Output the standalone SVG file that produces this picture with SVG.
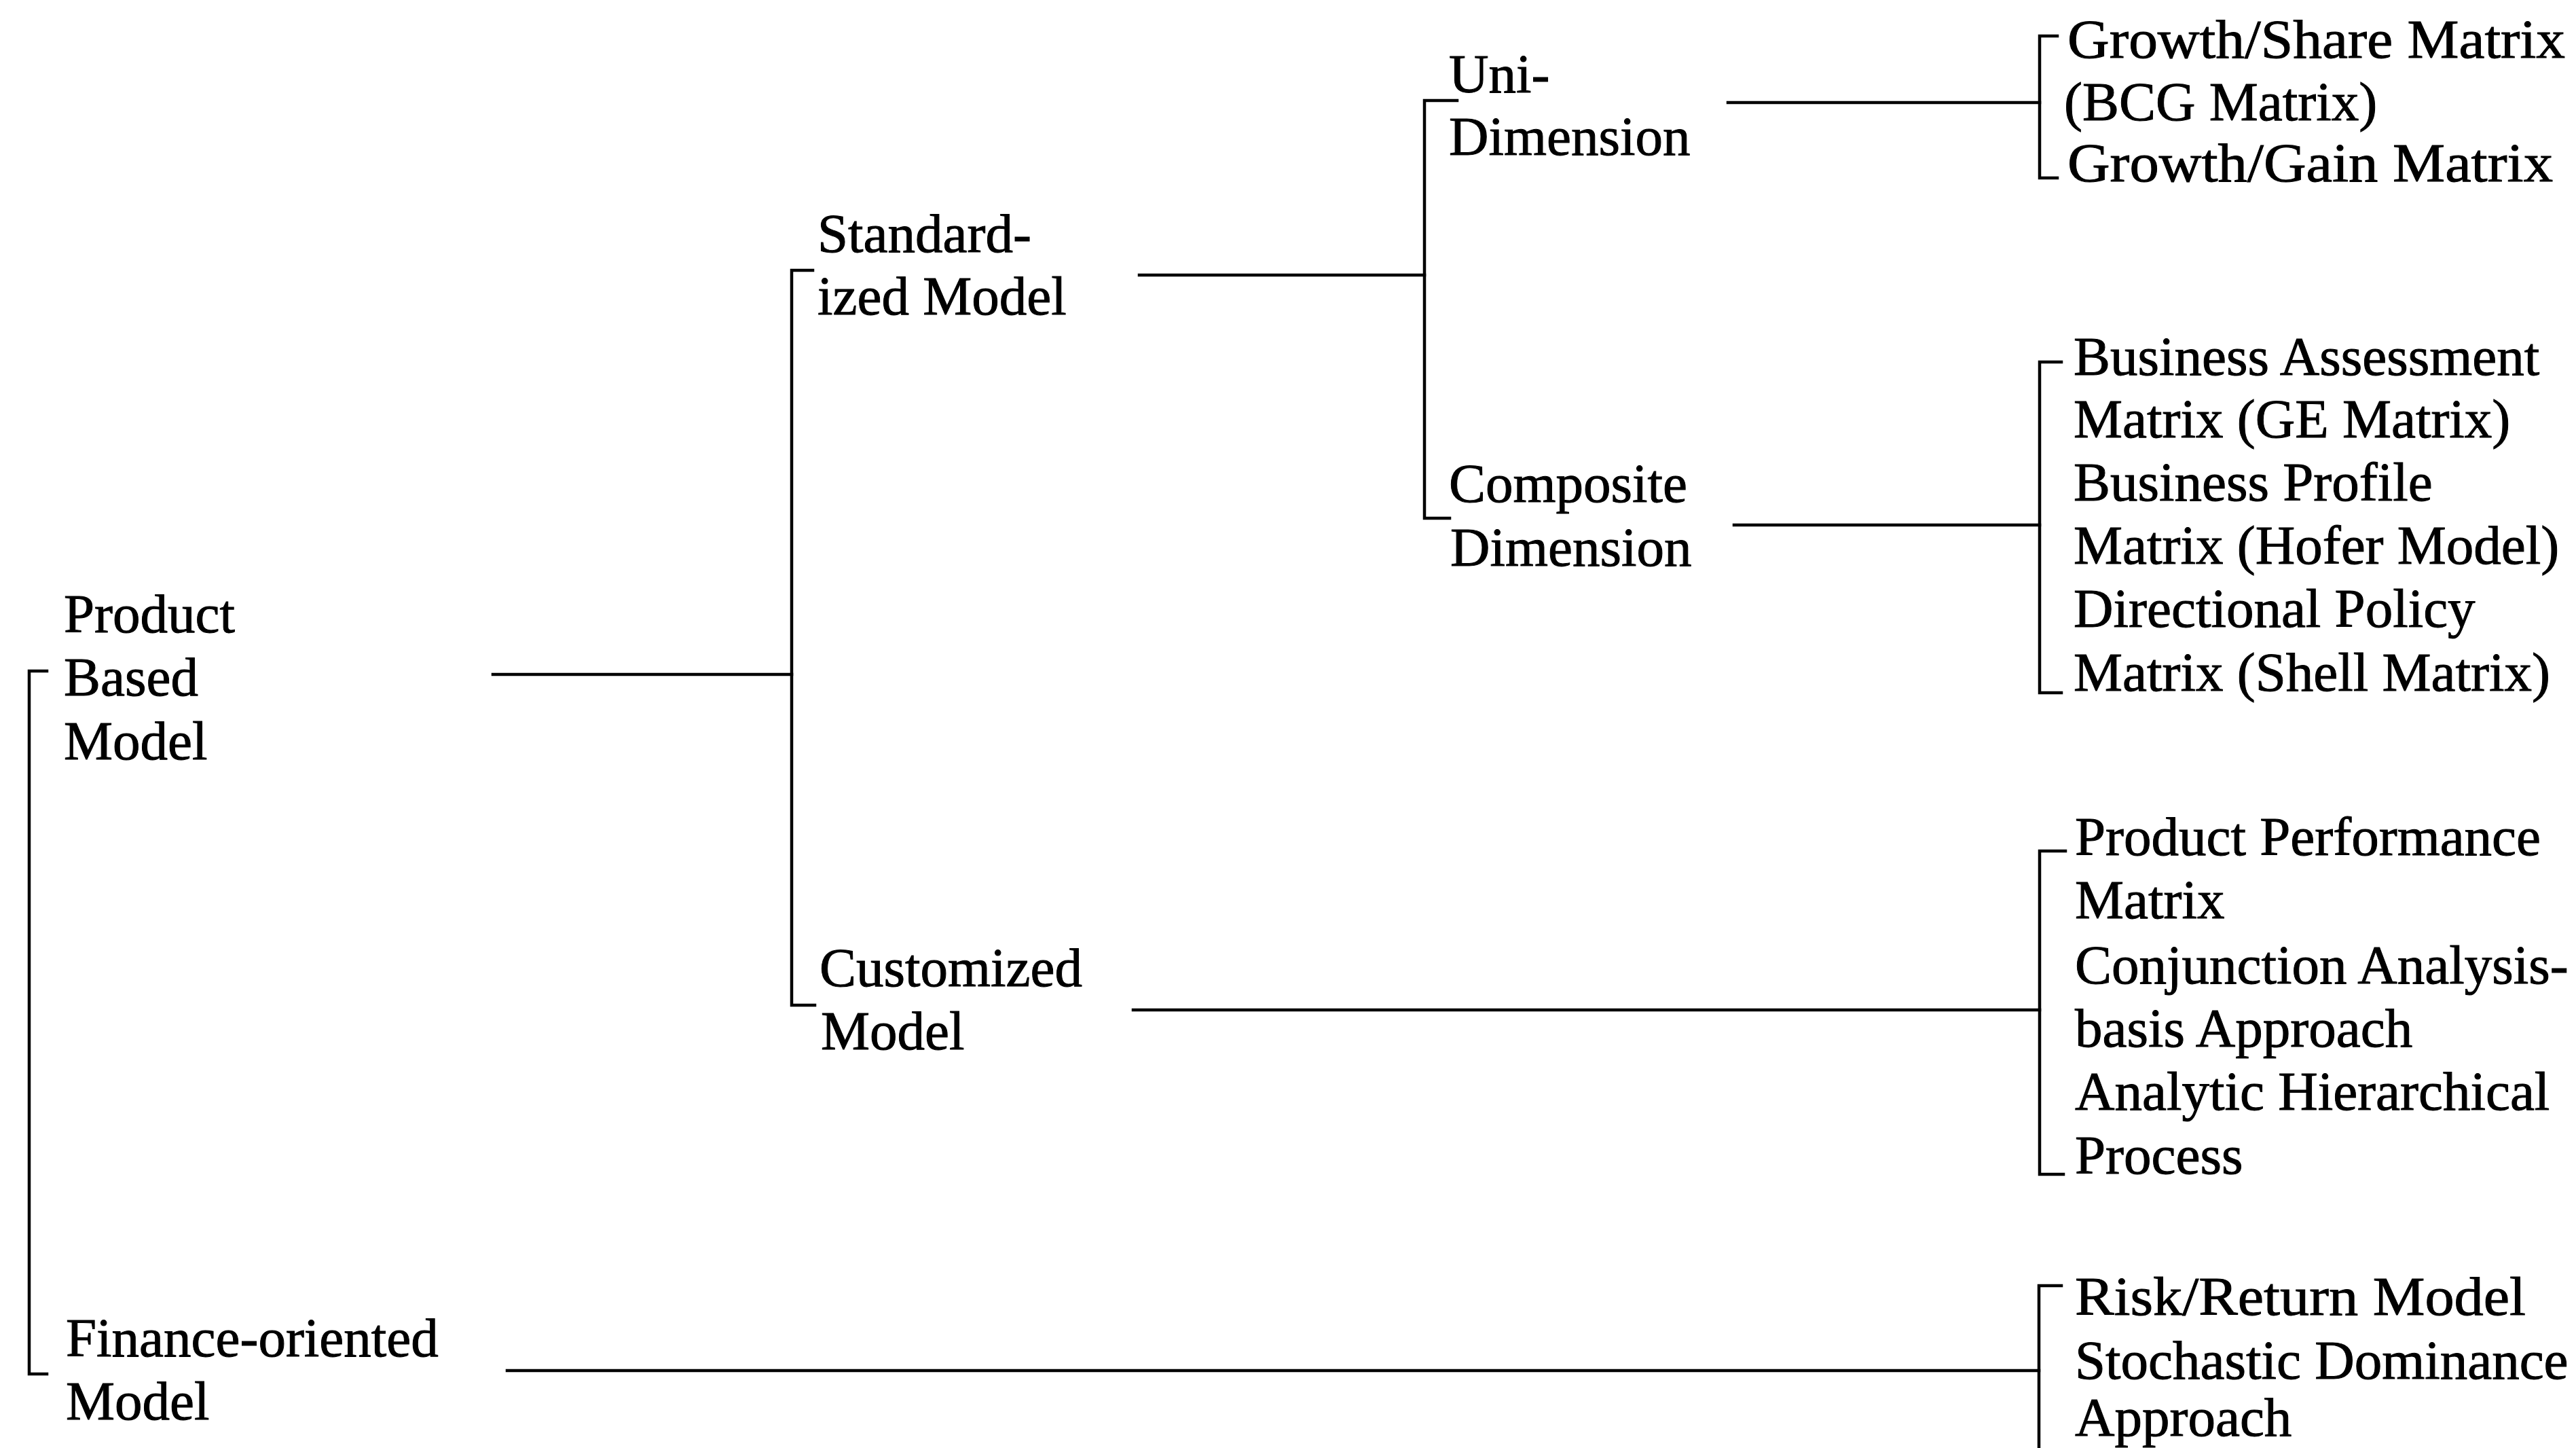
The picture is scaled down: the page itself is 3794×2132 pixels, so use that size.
<svg xmlns="http://www.w3.org/2000/svg" width="3794" height="2132" viewBox="0 0 3794 2132">
  <style>
    text { font-family: "Liberation Serif", "Times New Roman", serif; font-size: 81px; fill: #000; stroke: #000; stroke-width: 1; }
    .ln { stroke: #000; stroke-width: 4.5; fill: none; stroke-linecap: square; }
  </style>
  <rect width="3794" height="2132" fill="#fff"/>

  <!-- connectors: horizontal links and the brackets that group each level -->
  <g id="connectors">
    <!-- root bracket -->
    <path class="ln" d="M69,988 H43 V2023 H69"/>
    <!-- Product Based Model to its bracket -->
    <path class="ln" d="M726,993 H1166"/>
    <!-- Standardized / Customized bracket -->
    <path class="ln" d="M1197,398 H1166 V1480 H1200"/>
    <!-- Standardized Model to its bracket -->
    <path class="ln" d="M1678,405 H2098"/>
    <!-- Uni / Composite bracket -->
    <path class="ln" d="M2146,148 H2098 V763 H2135"/>
    <!-- leaf links -->
    <path class="ln" d="M2545,151 H3004"/>
    <path class="ln" d="M2554,773 H3004"/>
    <path class="ln" d="M1669,1487 H3004"/>
    <path class="ln" d="M747,2018 H3003"/>
    <!-- leaf brackets -->
    <path class="ln" d="M3030,53 H3004 V262 H3030"/>
    <path class="ln" d="M3036,533 H3004 V1020 H3036"/>
    <path class="ln" d="M3042,1253 H3004 V1729 H3039"/>
    <path class="ln" d="M3036,1893 H3003 V2132"/>
  </g>

  <g id="product-based-model">
    <text x="94" y="931">Product</text>
    <text x="94" y="1024">Based</text>
    <text x="94" y="1118">Model</text>
  </g>
  <g id="finance-oriented-model">
    <text x="97" y="1997">Finance-oriented</text>
    <text x="97" y="2090">Model</text>
  </g>
  <g id="standardized-model">
    <text x="1204" y="371">Standard-</text>
    <text x="1204" y="463">ized Model</text>
  </g>
  <g id="customized-model">
    <text x="1207" y="1452">Customized</text>
    <text x="1209" y="1545">Model</text>
  </g>
  <g id="uni-dimension">
    <text x="2134" y="136">Uni-</text>
    <text x="2134" y="228">Dimension</text>
  </g>
  <g id="composite-dimension">
    <text x="2134" y="739">Composite</text>
    <text x="2136" y="833">Dimension</text>
  </g>
  <g id="uni-dimension-models">
    <text x="3045" y="85" textLength="733" lengthAdjust="spacingAndGlyphs">Growth/Share Matrix</text>
    <text x="3040" y="177">(BCG Matrix)</text>
    <text x="3045" y="267" textLength="715" lengthAdjust="spacingAndGlyphs">Growth/Gain Matrix</text>
  </g>
  <g id="composite-dimension-models">
    <text x="3054" y="552">Business Assessment</text>
    <text x="3054" y="644">Matrix (GE Matrix)</text>
    <text x="3054" y="737">Business Profile</text>
    <text x="3054" y="830">Matrix (Hofer Model)</text>
    <text x="3054" y="923">Directional Policy</text>
    <text x="3054" y="1017">Matrix (Shell Matrix)</text>
  </g>
  <g id="customized-models">
    <text x="3056" y="1259">Product Performance</text>
    <text x="3056" y="1352">Matrix</text>
    <text x="3056" y="1448">Conjunction Analysis-</text>
    <text x="3056" y="1541">basis Approach</text>
    <text x="3056" y="1634">Analytic Hierarchical</text>
    <text x="3056" y="1728">Process</text>
  </g>
  <g id="finance-models">
    <text x="3056" y="1936" textLength="664" lengthAdjust="spacingAndGlyphs">Risk/Return Model</text>
    <text x="3056" y="2030">Stochastic Dominance</text>
    <text x="3056" y="2114">Approach</text>
  </g>
</svg>
